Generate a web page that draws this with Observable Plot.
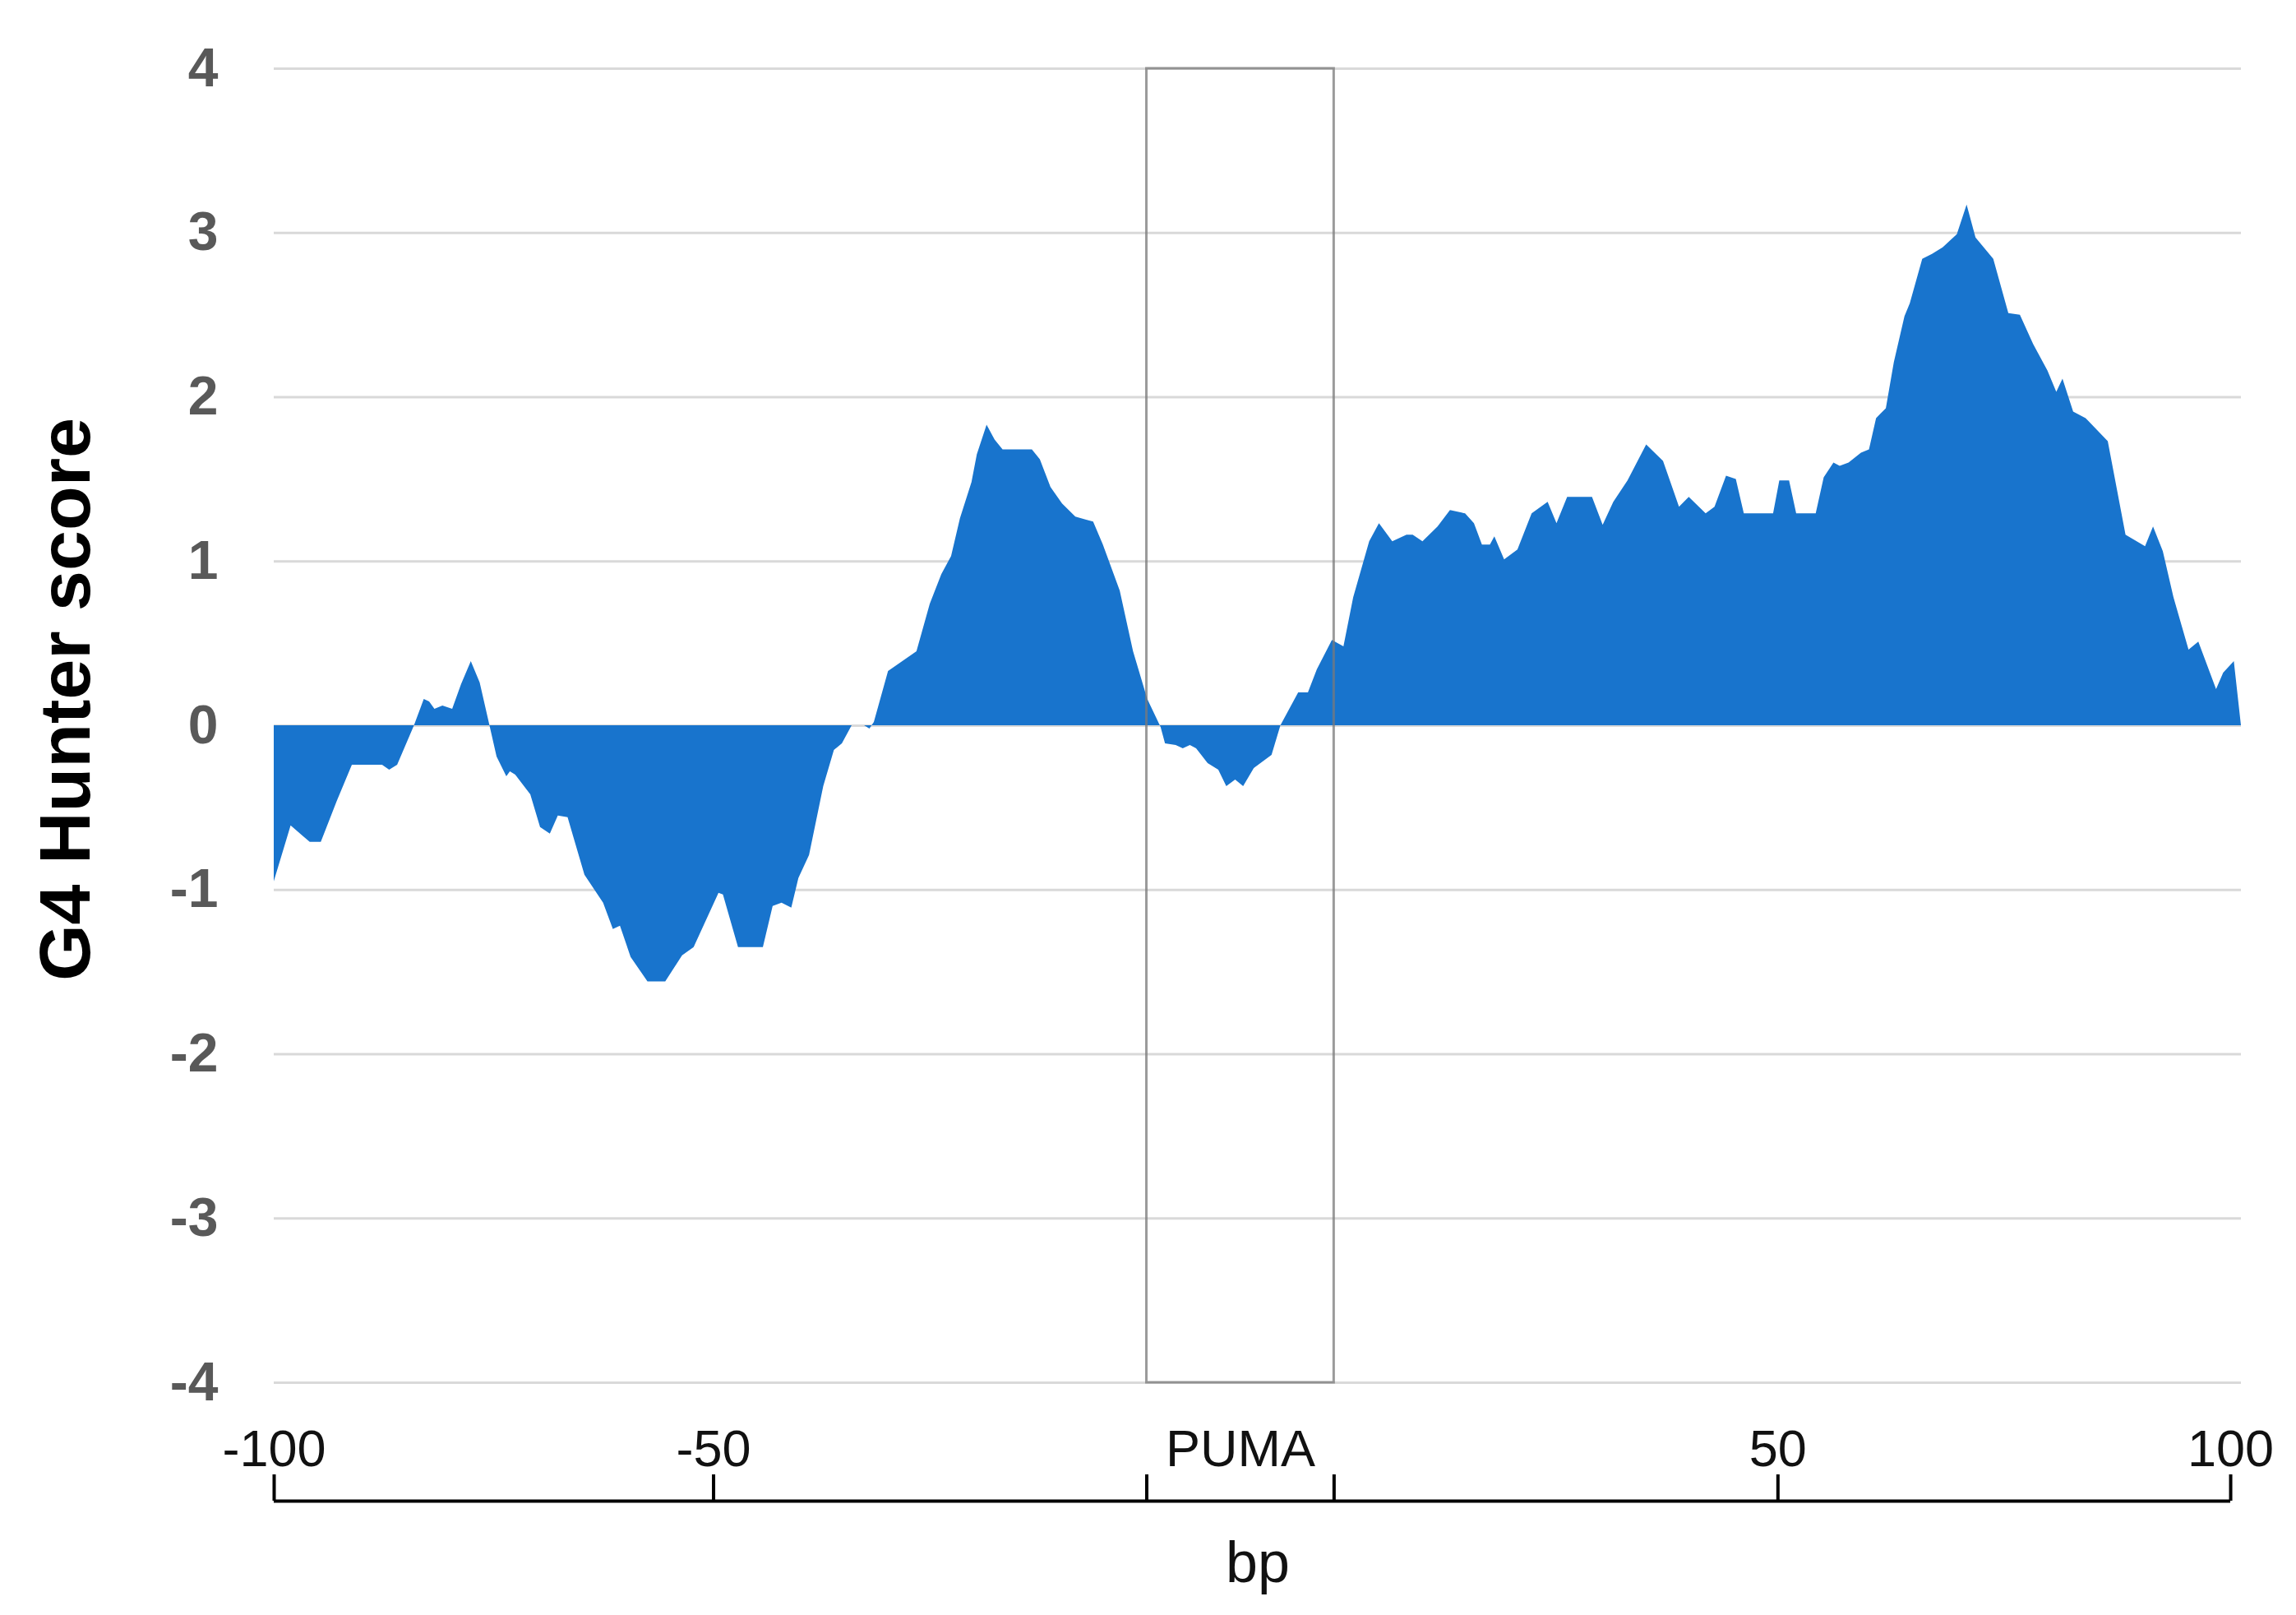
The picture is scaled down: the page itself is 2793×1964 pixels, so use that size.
<!DOCTYPE html>
<html>
<head>
<meta charset="utf-8">
<script src="https://cdn.jsdelivr.net/npm/d3@7"></script>
<script src="https://cdn.jsdelivr.net/npm/@observablehq/plot@0.6"></script>
<style>
  html, body { margin: 0; padding: 0; background: #fff; }
</style>
</head>
<body>
<div id="chart"></div>
<script>
// Position along the plotted sequence (index units; PUMA block inserted between upstream and downstream)
const pos = [
  0, 1.9, 4.05, 5.3, 7.1, 8.8, 12.2, 13.0, 13.9, 15.8, 16.9, 17.5, 18.1, 19.0, 20.1, 21.1, 22.2, 23.2, 24.3,
  25.1, 26.2, 26.6, 27.2, 28.9, 30.0, 31.1, 32.0, 33.1, 35.0, 37.1, 38.2, 39.0, 40.2, 42.1, 44.1, 46.0, 47.3,
  50.1, 50.6, 52.3, 55.1, 56.2, 57.2, 58.3, 59.1, 60.3, 61.9, 63.1, 64.0, 65.1, 66.5, 67.1, 67.6, 69.2, 72.4,
  73.9, 75.2, 76.3, 77.3, 78.6, 79.2, 80.3, 81.2, 82.1, 85.4, 86.3, 87.5, 88.8, 90.3, 91.6, 92.3, 93.4, 95.3,
  96.8, 98.4, 99.9, 100.4, 101.6, 102.4, 103.2, 103.9, 105.2, 106.4, 107.3, 108.3, 109.2, 110.4, 112.4, 113.4,
  115.4, 116.5, 117.5, 119.2, 120.5, 121.6, 123.4, 124.5, 126.0, 127.6, 128.3, 129.4, 131.1, 132.5, 134.2,
  135.2, 136.1, 137.0, 137.5, 138.6, 140.1, 141.7, 143.5, 144.5, 145.7, 148.5, 149.7, 150.9, 152.5, 154.6,
  156.5, 158.3, 159.4, 161.3, 162.3, 163.6, 164.7, 165.6, 168.9, 169.6, 170.7, 171.5, 173.7, 174.6, 175.7,
  176.4, 177.4, 178.8, 179.7, 180.5, 181.6, 182.5, 183.7, 184.3, 185.7, 186.8, 188.0, 189.6, 190.7, 191.7,
  193.7, 195.4, 196.7, 198.2, 199.8, 200.8, 201.5, 202.7, 204.1, 206.6, 208.6, 210.8, 211.7, 212.8, 214.0,
  215.7, 216.8, 218.8, 219.6, 220.8, 221.6
];
// G4 Hunter score at each position
const score = [
  -0.95, -0.61, -0.71, -0.71, -0.46, -0.24, -0.24, -0.27, -0.24, 0.0, 0.16, 0.145, 0.10, 0.12, 0.10, 0.25, 0.39, 0.26, 0.0,
  -0.19, -0.31, -0.28, -0.30, -0.42, -0.62, -0.66, -0.55, -0.56, -0.91, -1.08, -1.24, -1.22, -1.41, -1.56, -1.56, -1.40, -1.35,
  -1.02, -1.03, -1.35, -1.35, -1.10, -1.08, -1.11, -0.93, -0.79, -0.37, -0.15, -0.11, 0.0, 0.0, -0.02, 0.02, 0.33, 0.45,
  0.74, 0.92, 1.03, 1.26, 1.48, 1.65, 1.83, 1.74, 1.68, 1.68, 1.62, 1.45, 1.35, 1.27, 1.25, 1.24, 1.10, 0.82,
  0.45, 0.16, -0.01, -0.11, -0.12, -0.14, -0.12, -0.14, -0.23, -0.27, -0.37, -0.33, -0.37, -0.26, -0.18, 0.0,
  0.20, 0.20, 0.34, 0.52, 0.48, 0.78, 1.12, 1.23, 1.12, 1.16, 1.16, 1.12, 1.21, 1.31, 1.29,
  1.23, 1.10, 1.10, 1.15, 1.01, 1.07, 1.29, 1.36, 1.23, 1.39, 1.39, 1.22, 1.36, 1.49, 1.71,
  1.61, 1.33, 1.39, 1.29, 1.33, 1.52, 1.50, 1.29, 1.29, 1.49, 1.49, 1.29, 1.29, 1.51, 1.60,
  1.58, 1.60, 1.66, 1.68, 1.87, 1.93, 2.21, 2.49, 2.57, 2.84, 2.87, 2.91, 2.99, 3.17, 2.97,
  2.84, 2.51, 2.50, 2.32, 2.16, 2.03, 2.11, 1.91, 1.87, 1.73, 1.16, 1.09, 1.21, 1.06, 0.78,
  0.46, 0.51, 0.22, 0.32, 0.39, 0.0
];
const xExtent = [0, 221.6];
const yTicks = [-4, -3, -2, -1, 0, 1, 2, 3, 4];
// x-axis tick marks: -100, -50, PUMA start, PUMA end, 50, 100
const xTickPos = [0, 49.5, 98.3, 119.4, 169.4, 220.4];
const xLabelPos = [0, 49.5, 108.85, 169.4, 220.4];
const xLabels = ["-100", "-50", "PUMA", "50", "100"];
const pumaBox = [{x1: xTickPos[2], x2: xTickPos[3], y1: yTicks[0], y2: yTicks[yTicks.length - 1]}];

const data = pos.map((p, i) => ({p, s: score[i]}));

const chart = Plot.plot({
  width: 2793,
  height: 1964,
  marginTop: 83,
  marginBottom: 283,
  marginLeft: 333,
  marginRight: 67,
  x: {domain: xExtent, axis: null},
  y: {domain: [yTicks[0], yTicks[yTicks.length - 1]], axis: null},
  style: {fontFamily: "'Liberation Sans', Arial, sans-serif", background: "#fff", overflow: "visible"},
  marks: [
    Plot.gridY(yTicks, {stroke: "#d9d9d9", strokeOpacity: 1, strokeWidth: 3}),
    Plot.areaY(data, {x: "p", y: "s", fill: "#1874cd"}),
    Plot.rect(pumaBox, {x1: "x1", x2: "x2", y1: "y1", y2: "y2", fill: "none", stroke: "#7a7a7a", strokeOpacity: 0.75, strokeWidth: 3}),
    Plot.axisY(yTicks, {anchor: "left", tickSize: 0, tickPadding: 68, tickFormat: d => String(d), fontSize: 66, fontWeight: "bold", fill: "#595959"}),
    Plot.axisX(xTickPos, {anchor: "bottom", tickSize: 32, tickFormat: () => "", dy: 112, stroke: "#000", strokeWidth: 4}),
    Plot.ruleY([yTicks[0]], {x1: xTickPos[0], x2: xTickPos[xTickPos.length - 1], dy: 144, stroke: "#000", strokeWidth: 4}),
    Plot.text(xLabels, {x: (d, i) => xLabelPos[i], frameAnchor: "bottom", dy: 101, fontSize: 63, fill: "#111"}),
    Plot.text(["bp"], {frameAnchor: "bottom", dy: 242, fontSize: 70, fill: "#111"}),
    Plot.text(["G4 Hunter score"], {frameAnchor: "left", textAnchor: "middle", dx: -253, dy: -32, rotate: -90, fontSize: 88, fontWeight: "bold", fill: "#000"})
  ]
});
document.getElementById("chart").appendChild(chart);
</script>
</body>
</html>
